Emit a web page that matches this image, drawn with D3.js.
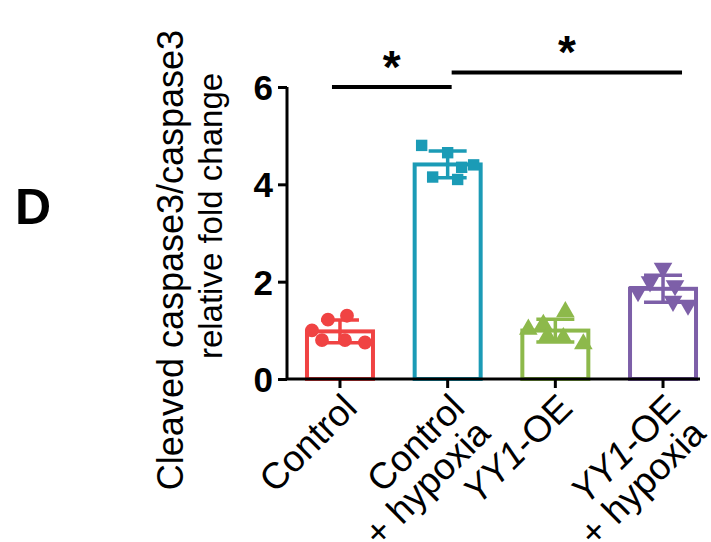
<!DOCTYPE html>
<html>
<head>
<meta charset="utf-8">
<script src="https://cdn.jsdelivr.net/npm/d3@7"></script>
<style>
  body { margin: 0; background: #fff; }
  svg text { font-family: "Liberation Sans", Arial, sans-serif; }
</style>
</head>
<body>
<div id="chart"></div>
<script>
// data
var groups = ["Control", "Control + hypoxia", "YY1-OE", "YY1-OE + hypoxia"];
var groupLines = [["Control"], ["Control", "+ hypoxia"], ["YY1-OE"], ["YY1-OE", "+ hypoxia"]];
var controlVals = [1.30, 1.22, 1.00, 0.80, 0.75, 0.80];
var controlHypoxiaVals = [4.80, 4.65, 4.40, 4.35, 4.15, 4.10];
var oeVals = [1.38, 1.12, 1.02, 0.88, 0.85, 0.72];
var oeHypoxiaVals = [2.28, 2.00, 1.92, 1.80, 1.52, 1.60];
var yTicks = [0, 2, 4, 6];
var sigFrom = [0, 1];
var sigTo = [1, 3];
var sigLevel = [6.0, 6.3];
var sigText = ["*", "*"];

var series = [controlVals, controlHypoxiaVals, oeVals, oeHypoxiaVals];
var colors = ["#F04343", "#1B9BB6", "#8DB94B", "#7D5FA8"];
var shapes = [d3.symbolCircle, d3.symbolSquare, d3.symbolTriangle, d3.symbolTriangle];
var jitter = [[7, -12, -28, 5, 25, -18], [-26, 0, 26, 14, -15, 10], [10, -12, -27, -8, 8, 28], [0, -13, 12, -25, 25, 10]];

var W = 711, H = 542;
var svg = d3.select("#chart").append("svg")
    .attr("width", W)
    .attr("height", H);

var y = d3.scaleLinear().domain([0, 6]).range([379, 87]);
var x = d3.scaleBand().domain(groups).range([287, 716]).paddingInner(0.35).paddingOuter(0.167);
var xi = function (i) { return x(groups[0]) + x.bandwidth() / 2 + i * x.step(); };

// bars
groups.forEach(function (g, i) {
    var vals = series[i];
    var m = d3.mean(vals), sd = d3.deviation(vals);
    var cx = x(g) + x.bandwidth() / 2;
    svg.append("rect")
        .attr("x", x(g) + 2)
        .attr("y", y(m))
        .attr("width", x.bandwidth() - 4)
        .attr("height", y(0) - y(m))
        .attr("fill", "#fff")
        .attr("stroke", colors[i])
        .attr("stroke-width", 4);

    var sym = d3.symbol().type(shapes[i]).size(i == 1 ? 130 : 150);
    svg.selectAll(".pt" + i)
        .data(vals)
        .enter().append("path")
        .attr("d", sym)
        .attr("fill", colors[i])
        .attr("transform", function (d, j) {
            return "translate(" + (cx + jitter[i][j]) + "," + y(d) + ")" + (i == 3 ? " rotate(180)" : "");
        });

    var eb = svg.append("g").attr("stroke", colors[i]).attr("stroke-width", 3.5);
    eb.append("line").attr("x1", cx).attr("x2", cx).attr("y1", y(m + sd)).attr("y2", y(m - sd));
    eb.append("line").attr("x1", cx - 19).attr("x2", cx + 19).attr("y1", y(m + sd)).attr("y2", y(m + sd));
    eb.append("line").attr("x1", cx - 19).attr("x2", cx + 19).attr("y1", y(m - sd)).attr("y2", y(m - sd));
});

// y axis
var yAxis = svg.append("g")
    .attr("transform", "translate(287,0)")
    .call(d3.axisLeft(y).tickValues(yTicks).tickFormat(d3.format("d")).tickSize(9).tickPadding(5));
yAxis.select(".domain").attr("stroke-width", 3).attr("d", "M0," + y(6) + "V" + y(0));
yAxis.selectAll(".tick line").attr("stroke-width", 3);
yAxis.selectAll(".tick text")
    .attr("font-size", 35)
    .attr("font-weight", "bold")
    .attr("fill", "#000")
    .attr("dy", "0.36em");

// x axis
var xAxis = svg.append("g")
    .attr("transform", "translate(0," + y(0) + ")")
    .call(d3.axisBottom(x).tickSize(9).tickFormat(""));
xAxis.select(".domain").attr("stroke-width", 3).attr("d", "M286,0H700");
xAxis.selectAll(".tick line").attr("stroke-width", 3);

groups.forEach(function (g, i) {
    var cx = x(g) + x.bandwidth() / 2;
    var t = svg.append("text")
        .attr("text-anchor", "end")
        .attr("font-size", 37)
        .attr("transform", "translate(" + (cx + 19) + "," + (y(0) + 31) + ") rotate(-45)");
    groupLines[i].forEach(function (line, k) {
        var ts = t.append("tspan").attr("x", 0).attr("dy", k == 0 ? 0 : 36);
        if (line.indexOf("YY1") == 0) {
            ts.append("tspan").attr("font-style", "italic").text("YY1");
            ts.append("tspan").text(line.slice(3));
        } else {
            ts.text(line);
        }
    });
});

// y label
svg.append("text")
    .attr("transform", "translate(183,260) rotate(-90)")
    .attr("text-anchor", "middle")
    .attr("font-size", 36)
    .text("Cleaved caspase3/caspase3");
svg.append("text")
    .attr("transform", "translate(222,216) rotate(-90)")
    .attr("text-anchor", "middle")
    .attr("font-size", 33)
    .text("relative fold change");

// significance
sigFrom.forEach(function (f, k) {
    var x1 = xi(f) + (k == 0 ? -8 : 4);
    var x2 = xi(sigTo[k]) + (k == 0 ? 4 : 19);
    svg.append("line")
        .attr("x1", x1).attr("x2", x2)
        .attr("y1", y(sigLevel[k])).attr("y2", y(sigLevel[k]))
        .attr("stroke", "#000")
        .attr("stroke-width", 4);
    svg.append("text")
        .attr("x", (x1 + x2) / 2)
        .attr("y", y(sigLevel[k]) - 4)
        .attr("text-anchor", "middle")
        .attr("font-size", 46)
        .attr("font-weight", "bold")
        .text(sigText[k]);
});

// panel letter
svg.append("text")
    .attr("x", 15)
    .attr("y", 224)
    .attr("font-size", 50)
    .attr("font-weight", "bold")
    .text("D");
</script>
</body>
</html>
